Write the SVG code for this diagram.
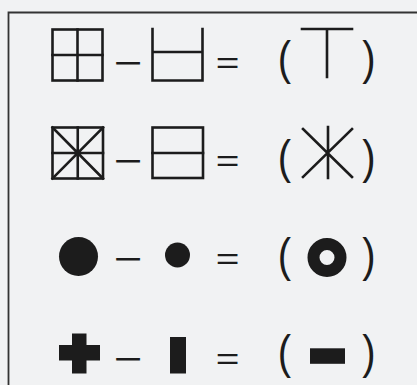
<svg xmlns="http://www.w3.org/2000/svg" width="417" height="385" viewBox="0 0 417 385">
<style>
.ln{fill:none;stroke:#1c1c1c;stroke-width:2.6;stroke-linecap:square}
.fl{fill:#1c1c1c}
.op{font-family:"Liberation Sans",Arial,sans-serif;fill:#1c1c1c}
.par{font-size:40px;text-anchor:middle}
.eq{font-size:30px;text-anchor:middle}
.mi{font-size:36px;text-anchor:middle}
</style>
<rect width="417" height="385" fill="#f1f2f3"/>
<path d="M8.5 385V12.5H417" fill="none" stroke="#333" stroke-width="1.8"/>
<g id="row1">
<g id="r1-a"><rect class="ln" x="52.5" y="29.5" width="50" height="51"/><path class="ln" d="M77.5 29.5V80.5M52.5 55H102.5"/></g>
<g id="r1-b"><path class="ln" d="M152.5 29V80.5H202.5V29M152.5 52H202.5"/></g>
<g id="r1-c"><path class="ln" d="M302 29H352M327 29V77"/></g>
<text class="op mi" x="128" y="75" textLength="28.6" lengthAdjust="spacingAndGlyphs">−</text>
<text class="op eq" x="227.5" y="73" textLength="23.7" lengthAdjust="spacingAndGlyphs">=</text>
<text class="op par" transform="translate(284.5 73.6) scale(1 1.15)">(</text>
<text class="op par" transform="translate(369 73.6) scale(1 1.15)">)</text>
</g>
<g id="row2">
<g id="r2-a"><rect class="ln" x="52.5" y="127.5" width="50.5" height="51"/><path class="ln" d="M77.75 127.5V178.5M52.5 153H103M52.5 127.5L103 178.5M103 127.5L52.5 178.5"/></g>
<g id="r2-b"><rect class="ln" x="152.5" y="127.5" width="50.5" height="50.5"/><path class="ln" d="M152.5 153H203"/></g>
<g id="r2-c"><path class="ln" d="M328 127V178M303 129L352 177M352 129L303 177"/></g>
<text class="op mi" x="128" y="172.5" textLength="28.6" lengthAdjust="spacingAndGlyphs">−</text>
<text class="op eq" x="227.5" y="170.5" textLength="23.7" lengthAdjust="spacingAndGlyphs">=</text>
<text class="op par" transform="translate(284.5 173.1) scale(1 1.15)">(</text>
<text class="op par" transform="translate(369 173.1) scale(1 1.15)">)</text>
</g>
<g id="row3">
<g id="r3-a"><circle class="fl" cx="78.5" cy="256.5" r="19.5"/></g>
<g id="r3-b"><circle class="fl" cx="177.5" cy="255" r="12.5"/></g>
<g id="r3-c"><circle cx="327" cy="257.5" r="13.5" fill="none" stroke="#1c1c1c" stroke-width="12"/></g>
<text class="op mi" x="128" y="271" textLength="28.6" lengthAdjust="spacingAndGlyphs">−</text>
<text class="op eq" x="227.5" y="269" textLength="23.7" lengthAdjust="spacingAndGlyphs">=</text>
<text class="op par" transform="translate(284.5 270.6) scale(1 1.15)">(</text>
<text class="op par" transform="translate(369 270.6) scale(1 1.15)">)</text>
</g>
<g id="row4">
<g id="r4-a"><path class="fl" d="M72 333.5H86.5V345H100V360.5H86.5V373.5H72V360.5H59V345H72Z"/></g>
<g id="r4-b"><rect class="fl" x="170" y="337" width="16" height="36.5"/></g>
<g id="r4-c"><rect class="fl" x="310" y="348.3" width="35" height="15.5"/></g>
<text class="op mi" x="128" y="370.5" textLength="28.6" lengthAdjust="spacingAndGlyphs">−</text>
<text class="op eq" x="227.5" y="369" textLength="23.7" lengthAdjust="spacingAndGlyphs">=</text>
<text class="op par" transform="translate(284.5 367.6) scale(1 1.15)">(</text>
<text class="op par" transform="translate(369 367.6) scale(1 1.15)">)</text>
</g>
</svg>
